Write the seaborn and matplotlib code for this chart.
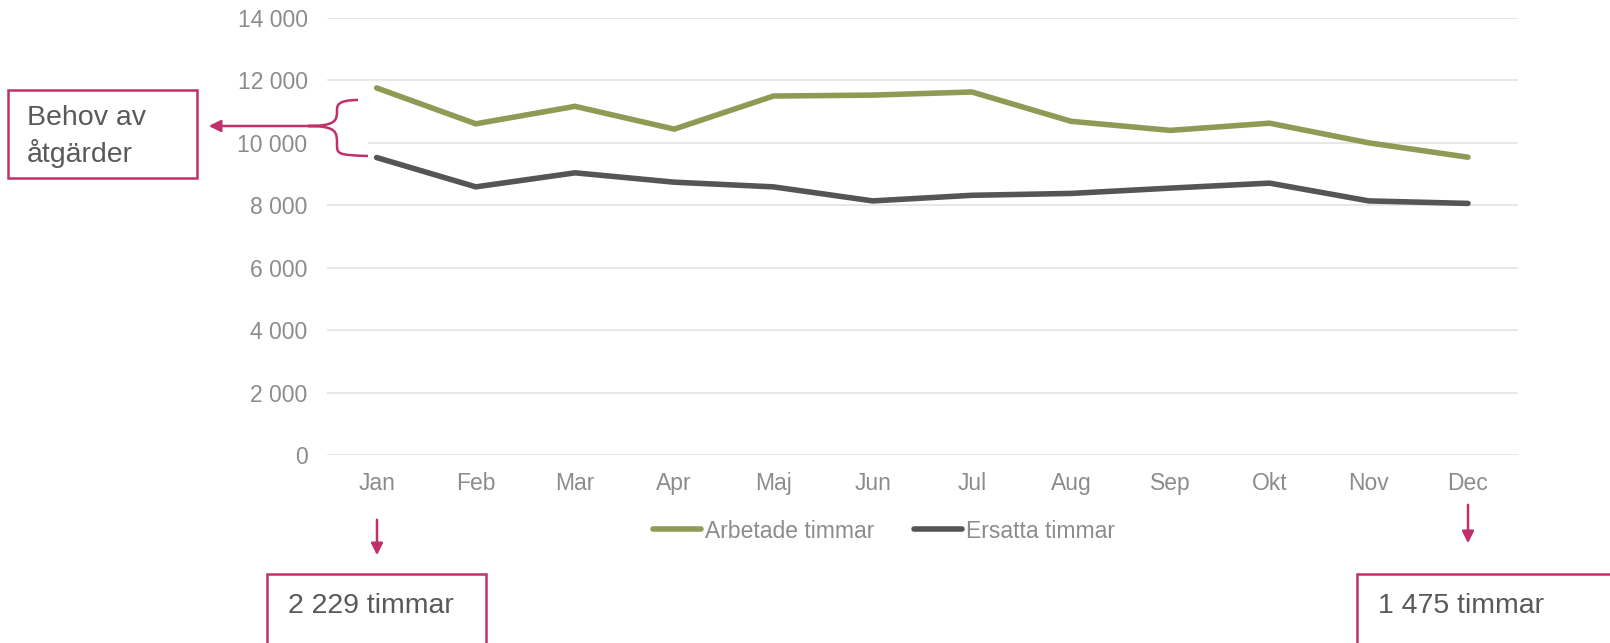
import numpy as np
import pandas as pd
import seaborn as sns
import matplotlib.pyplot as plt
from matplotlib.path import Path
from matplotlib.patches import PathPatch, Rectangle

months = ['Jan', 'Feb', 'Mar', 'Apr', 'Maj', 'Jun', 'Jul', 'Aug', 'Sep', 'Okt', 'Nov', 'Dec']
arbetade = [11760, 10610, 11170, 10440, 11500, 11530, 11630, 10690, 10400, 10630, 10000, 9540]
ersatta = [9530, 8590, 9040, 8740, 8590, 8140, 8320, 8380, 8550, 8710, 8140, 8060]
series = ['Arbetade timmar', 'Ersatta timmar']
colors = ['#8E9B55', '#555555']
magenta = '#C0306A'

df = pd.DataFrame({
    'idx': list(range(len(months))) * 2,
    'timmar': arbetade + ersatta,
    'serie': [series[0]] * len(months) + [series[1]] * len(months),
})

sns.set_style('white')
plt.rcParams['font.family'] = ['Liberation Sans', 'DejaVu Sans']

fig = plt.figure(figsize=(16.1, 6.43), dpi=100)
ax = fig.add_axes([327 / 1610, 1 - 455 / 643, (1517.6 - 327) / 1610, 437 / 643])

sns.lineplot(data=df, x='idx', y='timmar', hue='serie', palette=colors,
             linewidth=4, ax=ax, sort=False, legend=True)
for ln in ax.get_lines():
    ln.set_solid_capstyle('round')
    ln.set_solid_joinstyle('miter')

ax.set_xlim(-0.5, len(months) - 0.5)
ax.set_ylim(0, 14000)
ax.set_xticks(range(len(months)))
ax.set_xticklabels(months)
ax.set_yticks(np.arange(0, 14001, 2000))
ax.set_yticklabels([f'{int(v):,}'.replace(',', ' ') for v in np.arange(0, 14001, 2000)])
ax.yaxis.grid(True, color='#E3E3E3', linewidth=1.2)
ax.set_axisbelow(True)
for s in ax.spines.values():
    s.set_visible(False)
ax.tick_params(axis='both', colors='#8C8C8C', labelsize=16.5, length=0)
ax.tick_params(axis='x', pad=12)
ax.tick_params(axis='y', pad=14)
ax.set_xlabel('')
ax.set_ylabel('')

handles, labels = ax.get_legend_handles_labels()
leg = ax.legend(handles, labels, loc='center', bbox_to_anchor=(884 / 1610, 1 - 531 / 643),
                bbox_transform=fig.transFigure, ncol=2, frameon=False, fontsize=16.5,
                handlelength=2.1, handletextpad=0.15, columnspacing=1.75)
for t in leg.get_texts():
    t.set_color('#8C8C8C')
for h in leg.get_lines():
    h.set_linewidth(4)
    h.set_solid_capstyle('round')

# overlay in pixel coordinates for annotations
ov = fig.add_axes([0, 0, 1, 1], zorder=5)
ov.set_xlim(0, 1610)
ov.set_ylim(643, 0)
ov.axis('off')
ov.patch.set_alpha(0)

ov.add_patch(Rectangle((322, 97), 46, 60, facecolor='white', edgecolor='none'))

# boxes
ov.add_patch(Rectangle((8, 90), 189, 88, facecolor='white', edgecolor=magenta, linewidth=1.8))
ov.text(27, 118, 'Behov av', fontsize=20.5, color='#595959', va='center', ha='left')
ov.text(27, 153, 'åtgärder', fontsize=20.5, color='#595959', va='center', ha='left')

ov.add_patch(Rectangle((267, 574), 219, 80, facecolor='white', edgecolor=magenta, linewidth=1.8))
ov.text(288, 606, '2 229 timmar', fontsize=20.5, color='#595959', va='center', ha='left')

ov.add_patch(Rectangle((1357, 574), 260, 80, facecolor='white', edgecolor=magenta, linewidth=1.8))
ov.text(1378, 606, '1 475 timmar', fontsize=20.5, color='#595959', va='center', ha='left')

# arrows
arrow_kw = dict(arrowstyle='-|>,head_length=0.7,head_width=0.35', color=magenta, linewidth=1.8)
ov.annotate('', xy=(206, 126), xytext=(320, 126), arrowprops=arrow_kw)
ov.annotate('', xy=(377, 558), xytext=(377, 517), arrowprops=arrow_kw)
ov.annotate('', xy=(1468, 546), xytext=(1468, 502), arrowprops=arrow_kw)

# brace
verts = [(358, 100), (337, 100), (337, 106), (337, 110),
         (337, 120), (337, 126), (308, 126),
         (337, 126), (337, 132), (337, 144),
         (337, 154), (337, 155), (368, 156)]
codes = [Path.MOVETO, Path.CURVE4, Path.CURVE4, Path.LINETO,
         Path.CURVE4, Path.CURVE4, Path.CURVE4,
         Path.CURVE4, Path.CURVE4, Path.LINETO,
         Path.CURVE4, Path.CURVE4, Path.CURVE4]
ov.add_patch(PathPatch(Path(verts, codes), facecolor='none', edgecolor=magenta, linewidth=1.8))

fig.savefig('out.png', dpi=100)
